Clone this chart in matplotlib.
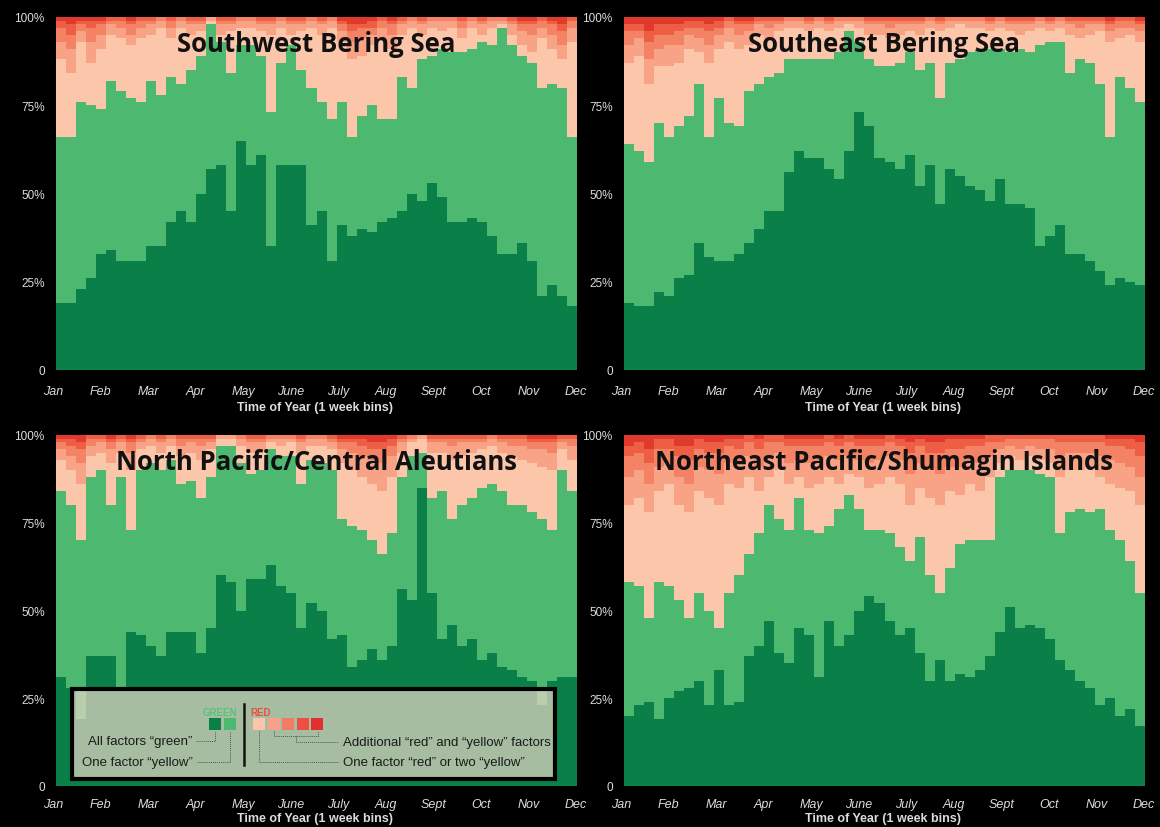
import numpy as np
import matplotlib
matplotlib.use("Agg")
import matplotlib.pyplot as plt
from matplotlib.patches import Rectangle

# ---------------------------------------------------------------------------
# Data: cumulative share (%) of each weekly bin, bottom layer first.
#   GREEN  = all factors "green"
#   YELLOW = one factor "yellow"
#   RED1   = one factor "red" or two "yellow"
#   RED2..RED4 = additional "red"/"yellow" factors (the last layer fills to 100)
# ---------------------------------------------------------------------------
MONTHS = ["Jan", "Feb", "Mar", "Apr", "May", "June", "July", "Aug",
          "Sept", "Oct", "Nov", "Dec"]
TITLES = ["Southwest Bering Sea", "Southeast Bering Sea",
          "North Pacific/Central Aleutians", "Northeast Pacific/Shumagin Islands"]

SW_GREEN = [19, 19, 23, 26, 33, 34, 31, 31, 31, 35, 35, 42, 45, 42, 50, 57, 58, 45, 65, 58,
            61, 35, 58, 58, 58, 41, 45, 31, 41, 38, 40, 39, 42, 43, 45, 50, 48, 53, 49, 42,
            42, 43, 42, 38, 33, 33, 36, 31, 21, 24, 21, 18]
SW_YELLOW = [66, 66, 76, 75, 74, 82, 79, 77, 76, 82, 78, 83, 81, 85, 89, 98, 93, 84, 92, 92,
             89, 73, 87, 92, 85, 80, 76, 71, 76, 66, 72, 75, 71, 71, 83, 80, 88, 89, 91, 90,
             90, 91, 93, 92, 97, 92, 89, 87, 80, 81, 80, 66]
SW_RED1 = [88, 84, 93, 87, 91, 95, 94, 92, 94, 95, 97, 94, 97, 95, 96, 99, 95, 96, 97, 97,
           96, 95, 97, 95, 96, 97, 95, 97, 93, 88, 89, 92, 94, 91, 95, 97, 95, 97, 96, 97,
           94, 97, 95, 97, 98, 95, 92, 90, 94, 91, 88, 93]
SW_RED2 = [93, 91, 96, 93, 95, 98, 97, 95, 97, 98, 99, 97, 99, 98, 98, 100, 98, 98, 99, 99,
           98, 98, 99, 98, 98, 99, 98, 99, 96, 93, 94, 95, 97, 95, 98, 99, 98, 99, 99, 99,
           97, 99, 98, 99, 99, 98, 96, 95, 97, 95, 92, 97]
SW_RED3 = [97, 95, 98, 97, 98, 99, 99, 98, 99, 99, 100, 99, 100, 99, 99, 100, 99, 99, 100, 100,
           99, 99, 100, 99, 99, 100, 99, 100, 98, 96, 97, 97, 99, 98, 99, 100, 99, 100, 100, 100,
           99, 100, 99, 100, 100, 99, 98, 98, 99, 98, 96, 99]
SW_RED4 = [99, 98, 99, 99, 99, 100, 100, 99, 100, 100, 100, 100, 100, 100, 100, 100, 100, 100, 100, 100,
           100, 100, 100, 100, 100, 100, 100, 100, 99, 98, 98, 99, 100, 99, 100, 100, 100, 100, 100, 100,
           100, 100, 100, 100, 100, 100, 99, 99, 100, 99, 98, 100]

SE_GREEN = [19, 18, 18, 22, 21, 26, 27, 36, 32, 31, 31, 33, 36, 40, 45, 45, 56, 62, 60, 60,
            57, 54, 62, 73, 69, 60, 59, 57, 61, 52, 58, 47, 57, 55, 52, 51, 48, 54, 47, 47,
            46, 35, 38, 41, 33, 33, 31, 28, 24, 26, 25, 24]
SE_YELLOW = [64, 62, 59, 70, 66, 69, 72, 81, 66, 77, 70, 69, 79, 81, 83, 84, 88, 88, 88, 88,
             88, 90, 96, 93, 88, 86, 86, 87, 90, 85, 87, 77, 87, 88, 90, 91, 91, 91, 90, 91,
             90, 92, 93, 93, 84, 88, 87, 81, 66, 83, 80, 76]
SE_RED1 = [87, 89, 81, 86, 86, 87, 91, 90, 87, 91, 93, 91, 92, 95, 94, 96, 97, 97, 96, 97,
           96, 97, 98, 97, 95, 95, 94, 95, 96, 95, 97, 96, 97, 98, 97, 97, 96, 97, 96, 95,
           96, 97, 96, 97, 95, 94, 95, 96, 93, 94, 95, 93]
SE_RED2 = [92, 94, 88, 91, 92, 92, 95, 94, 92, 95, 97, 95, 96, 98, 97, 98, 99, 99, 98, 99,
           98, 99, 99, 99, 98, 98, 97, 98, 98, 98, 99, 98, 99, 99, 99, 99, 98, 99, 98, 98,
           98, 99, 98, 99, 98, 97, 98, 98, 96, 97, 97, 96]
SE_RED3 = [96, 96, 93, 95, 95, 96, 97, 97, 96, 97, 99, 98, 98, 99, 99, 99, 100, 100, 99, 100,
           99, 100, 100, 100, 99, 99, 99, 99, 99, 99, 100, 99, 100, 100, 100, 100, 99, 100, 99, 99,
           99, 100, 99, 100, 99, 99, 99, 99, 98, 99, 99, 98]
SE_RED4 = [98, 98, 96, 98, 98, 98, 99, 99, 98, 99, 100, 99, 99, 100, 100, 100, 100, 100, 100, 100,
           100, 100, 100, 100, 100, 100, 100, 100, 100, 100, 100, 100, 100, 100, 100, 100, 100, 100, 100, 100,
           100, 100, 100, 100, 100, 100, 100, 100, 99, 100, 100, 99]

NP_GREEN = [31, 28, 19, 37, 37, 37, 28, 44, 43, 40, 37, 44, 44, 44, 38, 45, 60, 58, 50, 59,
            59, 63, 57, 55, 45, 52, 50, 42, 43, 34, 36, 39, 36, 40, 56, 53, 85, 55, 42, 46,
            40, 42, 36, 38, 34, 33, 31, 30, 23, 30, 31, 31]
NP_YELLOW = [84, 80, 70, 88, 90, 80, 88, 73, 90, 92, 90, 93, 86, 87, 82, 88, 97, 97, 92, 89,
             90, 96, 94, 94, 86, 93, 92, 90, 76, 74, 73, 70, 66, 72, 88, 94, 95, 82, 84, 76,
             80, 82, 85, 86, 84, 80, 80, 78, 76, 73, 90, 84]
NP_RED1 = [93, 90, 86, 94, 95, 92, 95, 90, 96, 97, 95, 97, 94, 95, 93, 96, 99, 99, 97, 95,
           96, 98, 97, 98, 95, 97, 97, 96, 92, 90, 88, 86, 84, 88, 95, 98, 99, 95, 95, 93,
           94, 95, 96, 97, 95, 94, 93, 92, 91, 90, 96, 93]
NP_RED2 = [96, 94, 92, 97, 98, 96, 98, 95, 98, 99, 98, 99, 97, 98, 97, 98, 100, 100, 99, 98,
           98, 99, 99, 99, 98, 99, 99, 98, 96, 95, 94, 93, 92, 94, 98, 99, 100, 98, 98, 97,
           98, 98, 98, 99, 98, 97, 97, 96, 96, 95, 98, 97]
NP_RED3 = [98, 97, 96, 99, 99, 98, 99, 98, 99, 100, 99, 100, 99, 99, 99, 99, 100, 100, 100, 99,
           99, 100, 100, 100, 99, 100, 100, 99, 98, 98, 97, 96, 96, 97, 99, 100, 100, 99, 99, 99,
           99, 99, 99, 100, 99, 99, 99, 98, 98, 98, 99, 99]
NP_RED4 = [99, 99, 98, 100, 100, 99, 100, 99, 100, 100, 100, 100, 100, 100, 100, 100, 100, 100, 100, 100,
           100, 100, 100, 100, 100, 100, 100, 100, 99, 99, 99, 98, 98, 99, 100, 100, 100, 100, 100, 100,
           100, 100, 100, 100, 100, 100, 100, 99, 99, 99, 100, 100]

NE_GREEN = [20, 23, 24, 19, 25, 27, 28, 30, 23, 33, 23, 24, 37, 40, 47, 38, 35, 45, 43, 31,
            47, 40, 43, 50, 54, 52, 47, 43, 45, 38, 30, 36, 30, 32, 31, 33, 37, 44, 51, 45,
            46, 45, 42, 36, 33, 30, 28, 23, 25, 20, 22, 17]
NE_YELLOW = [58, 57, 48, 58, 57, 53, 48, 55, 50, 45, 55, 60, 66, 72, 80, 76, 73, 82, 73, 72,
             74, 79, 83, 79, 73, 73, 72, 68, 64, 71, 60, 55, 62, 69, 70, 70, 70, 88, 90, 90,
             90, 89, 88, 72, 78, 79, 78, 79, 73, 70, 64, 55]
NE_RED1 = [80, 82, 78, 84, 86, 80, 78, 84, 82, 80, 86, 85, 88, 84, 88, 90, 86, 88, 85, 86,
           88, 86, 89, 88, 85, 86, 88, 86, 80, 85, 82, 80, 84, 83, 86, 84, 88, 92, 94, 93,
           94, 93, 92, 88, 90, 90, 91, 88, 86, 85, 84, 80]
NE_RED2 = [88, 90, 86, 91, 92, 88, 86, 91, 90, 89, 92, 92, 94, 91, 94, 95, 92, 93, 92, 93,
           94, 93, 94, 93, 92, 93, 94, 93, 89, 92, 90, 89, 91, 91, 93, 92, 94, 96, 97, 96,
           97, 96, 96, 94, 95, 95, 95, 94, 93, 92, 91, 88]
NE_RED3 = [94, 95, 92, 96, 96, 94, 93, 96, 95, 95, 97, 96, 98, 96, 98, 98, 97, 97, 97, 97,
           98, 97, 98, 97, 97, 97, 98, 97, 95, 97, 95, 95, 96, 96, 97, 97, 98, 98, 99, 99,
           99, 99, 99, 98, 98, 98, 98, 98, 97, 97, 96, 94]
NE_RED4 = [97, 98, 96, 99, 99, 97, 97, 99, 98, 98, 99, 99, 100, 99, 100, 100, 99, 99, 99, 99,
           100, 99, 100, 99, 99, 99, 100, 99, 98, 99, 98, 98, 99, 99, 99, 99, 100, 100, 100, 100,
           100, 100, 100, 100, 100, 100, 100, 100, 99, 99, 99, 98]

PANELS = [
    [SW_GREEN, SW_YELLOW, SW_RED1, SW_RED2, SW_RED3, SW_RED4],
    [SE_GREEN, SE_YELLOW, SE_RED1, SE_RED2, SE_RED3, SE_RED4],
    [NP_GREEN, NP_YELLOW, NP_RED1, NP_RED2, NP_RED3, NP_RED4],
    [NE_GREEN, NE_YELLOW, NE_RED1, NE_RED2, NE_RED3, NE_RED4],
]

LAYER_COLORS = ["#0a8048", "#4db870", "#fcc6aa", "#f9a386", "#f48366", "#ee5e45", "#df3a2b"]
BG = "#000000"
FG = "#dcdcdc"
TICK_FONT = "Liberation Sans"
TITLE_FONT = "Open Sans"

fig = plt.figure(figsize=(11.6, 8.28), dpi=100, facecolor=BG)

W, H = 1160.0, 828.0
boxes = [(53, 18, 577, 371), (621, 18, 1145, 371),
         (53, 436, 577, 787), (621, 436, 1145, 787)]


def draw_panel(ax, layers, title, bottom_row):
    n = len(layers[0])
    edges = np.arange(n + 1)
    bottom = np.zeros(n)
    tops = [np.asarray(t, float) for t in layers] + [np.full(n, 100.0)]
    for top, color in zip(tops, LAYER_COLORS):
        ax.stairs(top, edges, baseline=bottom, fill=True, color=color,
                  linewidth=0, antialiased=False)
        bottom = top
    ax.set_xlim(0, n)
    ax.set_ylim(0, 100)
    ax.set_facecolor(BG)
    for s in ax.spines.values():
        s.set_visible(False)
    ax.set_yticks([0, 25, 50, 75, 100])
    ax.set_yticklabels(["0", "25%", "50%", "75%", "100%"],
                       fontfamily=TICK_FONT, fontsize=8.5, color=FG)
    ax.set_xticks(np.linspace(-0.3, n - 0.1, 12))
    ax.set_xticklabels(MONTHS, fontfamily=TICK_FONT, fontsize=9, style="italic", color=FG)
    ax.tick_params(axis="both", length=0)
    ax.tick_params(axis="x", pad=9 if bottom_row else 11)
    ax.tick_params(axis="y", pad=6)
    ax.set_xlabel("Time of Year (1 week bins)", fontfamily=TICK_FONT, fontsize=9,
                  fontweight="bold", color=FG, labelpad=1 if bottom_row else 3)
    ax.text(0.502, 0.925, title, transform=ax.transAxes, ha="center", va="center",
            fontfamily=TITLE_FONT, fontweight="bold", fontsize=18.5, color="#111111",
            zorder=5)


axes = []
for i, ((x0, y0, x1, y1), layers, title) in enumerate(zip(boxes, PANELS, TITLES)):
    ax = fig.add_axes([x0 / W, 1 - y1 / H, (x1 - x0) / W, (y1 - y0) / H])
    draw_panel(ax, layers, title, bottom_row=i >= 2)
    axes.append(ax)

# ---------------------------------------------------------------------------
# Key, drawn over the lower-left panel
# ---------------------------------------------------------------------------
ax = axes[2]
tr = ax.transAxes
px_w = 524.0
px_h = 351.0


def fx(x):
    return (x - 53) / px_w


def fy(y):
    return (787 - y) / px_h


key = Rectangle((fx(72), fy(780)), fx(555) - fx(72), fy(690) - fy(780), transform=tr,
                facecolor="#e5d6c6", alpha=0.72, edgecolor="none", zorder=6)
ax.add_patch(key)
ax.add_patch(Rectangle((fx(72), fy(780)), fx(555) - fx(72), fy(690) - fy(780), transform=tr,
                       facecolor="none", edgecolor="#000000", linewidth=3, zorder=7))

sq_w = fx(221) - fx(209)
sq_h = fy(719) - fy(731)
for x, c in [(209, LAYER_COLORS[0]), (224, LAYER_COLORS[1])]:
    ax.add_patch(Rectangle((fx(x), fy(731)), sq_w, sq_h, transform=tr,
                           facecolor=c, edgecolor="none", zorder=8))
red_keys = ["#fcc5ab", "#f9a08a", "#f27b66", "#ee4f42", "#df302d"]
for i, c in enumerate(red_keys):
    ax.add_patch(Rectangle((fx(253 + 14.6 * i), fy(731)), sq_w, sq_h, transform=tr,
                           facecolor=c, edgecolor="none", zorder=8))

ax.text(fx(220), fy(713), "GREEN", transform=tr, ha="center", va="center",
        fontfamily=TICK_FONT, fontweight="bold", fontsize=7, color="#5cc27a", zorder=8)
ax.text(fx(250), fy(713), "RED", transform=tr, ha="left", va="center",
        fontfamily=TICK_FONT, fontweight="bold", fontsize=7, color="#e9503f", zorder=8)
ax.plot([fx(244), fx(244)], [fy(705), fy(766)], transform=tr, color="#111111",
        linewidth=1.8, zorder=8)

txt_kw = dict(transform=tr, va="center", fontfamily=TICK_FONT, fontsize=9.5,
              color="#1a1a1a", zorder=8)
ax.text(fx(192), fy(742), "All factors \u201cgreen\u201d", ha="right", **txt_kw)
ax.text(fx(193), fy(763), "One factor \u201cyellow\u201d", ha="right", **txt_kw)
ax.text(fx(343), fy(743), "Additional \u201cred\u201d and \u201cyellow\u201d factors", ha="left", **txt_kw)
ax.text(fx(343), fy(763), "One factor \u201cred\u201d or two \u201cyellow\u201d", ha="left", **txt_kw)

lead = dict(transform=tr, color="#555555", linewidth=0.7, linestyle=(0, (1, 1)), zorder=8)
ax.plot([fx(196), fx(215), fx(215)], [fy(742), fy(742), fy(732)], **lead)
ax.plot([fx(197), fx(230), fx(230)], [fy(763), fy(763), fy(732)], **lead)
ax.plot([fx(259), fx(259), fx(338)], [fy(732), fy(763), fy(763)], **lead)
ax.plot([fx(274), fx(274), fx(318), fx(318)], [fy(732), fy(737), fy(737), fy(732)], **lead)
ax.plot([fx(296), fx(296), fx(338)], [fy(737), fy(743), fy(743)], **lead)

fig.savefig("out.png", dpi=100, facecolor=BG)
